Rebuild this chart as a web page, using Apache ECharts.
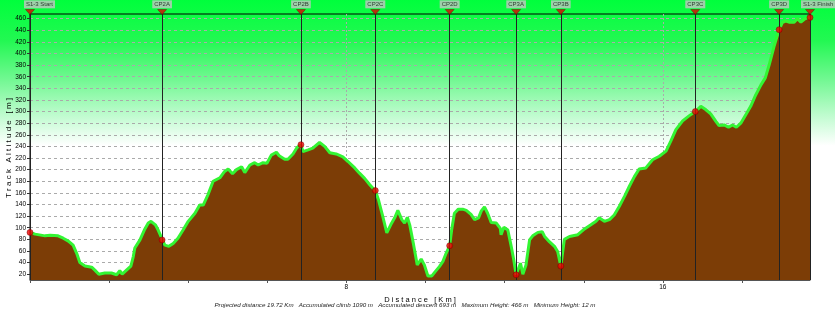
<!DOCTYPE html>
<html><head><meta charset="utf-8">
<script src="https://cdn.jsdelivr.net/npm/echarts@6/dist/echarts.min.js"></script>
<style>html,body{margin:0;padding:0;background:#fff}#c{width:835px;height:310px}</style>
</head><body><div id="c"></div>
<script>
const distKm = [0.00,0.13,0.38,0.51,0.71,0.84,0.97,1.09,1.18,1.26,1.39,1.56,1.64,1.74,1.89,2.06,2.19,2.27,2.33,2.44,2.55,2.61,2.65,2.78,2.89,2.99,3.06,3.17,3.24,3.33,3.34,3.41,3.51,3.62,3.74,3.87,4.00,4.17,4.29,4.38,4.50,4.63,4.80,4.92,5.01,5.12,5.22,5.35,5.43,5.56,5.68,5.77,5.89,5.99,6.10,6.23,6.30,6.44,6.52,6.65,6.75,6.85,6.90,7.03,7.15,7.32,7.45,7.58,7.74,7.91,8.04,8.21,8.33,8.46,8.59,8.67,8.73,8.81,8.92,9.02,9.12,9.22,9.30,9.40,9.47,9.54,9.60,9.70,9.79,9.89,9.97,10.06,10.16,10.24,10.35,10.44,10.52,10.61,10.66,10.73,10.83,10.94,11.03,11.15,11.24,11.34,11.41,11.49,11.57,11.66,11.79,11.89,11.91,11.98,12.08,12.16,12.23,12.29,12.40,12.46,12.54,12.63,12.71,12.84,12.95,13.01,13.13,13.26,13.34,13.42,13.51,13.64,13.85,14.02,14.18,14.31,14.39,14.52,14.65,14.77,14.90,15.03,15.15,15.28,15.40,15.57,15.74,15.91,16.08,16.20,16.33,16.50,16.67,16.82,16.96,17.09,17.21,17.34,17.42,17.55,17.66,17.76,17.86,17.97,18.10,18.22,18.35,18.48,18.59,18.69,18.81,18.94,19.02,19.11,19.19,19.32,19.40,19.49,19.60,19.72];
const altM = [92,89,86,87,86,82,77,70,56,40,34,32,27,20,22,22,19,26,20,27,34,50,65,79,96,108,111,105,96,82,79,70,68,73,82,96,111,125,139,139,157,180,186,197,201,193,200,205,195,208,212,208,212,211,225,230,224,218,218,227,238,243,231,234,237,247,240,229,227,222,214,203,194,185,174,168,164,148,119,91,105,117,130,114,108,118,105,70,36,46,36,17,17,24,33,42,56,69,96,125,132,132,130,123,114,117,129,136,125,109,108,99,88,101,96,70,45,19,39,20,36,79,86,92,93,85,76,68,59,34,80,85,88,98,105,111,117,111,114,122,137,154,171,188,201,203,217,223,232,249,269,284,293,300,309,303,296,283,276,277,273,277,273,280,295,309,329,346,358,381,412,441,453,456,454,454,460,454,460,462];
const cpNames = ['S1-3 Start','CP2A','CP2B','CP2C','CP2D','CP3A','CP3B','CP3C','CP3D','S1-3 Finish'];
const cpKm = [0,3.34,6.85,8.73,10.61,12.29,13.42,16.82,18.94,19.72];
const cpAlt = [92,79,243,164,69,19,34,300,441,462];
const yTicks = [20,40,60,80,100,120,140,160,180,200,220,240,260,280,300,320,340,360,380,400,420,440,460];
const xTicks = [0,2,4,6,8,10,12,14,16,18];
const xLabels = [8,16];
const yMin = 10, yMax = 468, xMax = 19.72;
const yTitle = 'T r a c k   A l t i t u d e   [ m ]';
const xTitle = 'D i s t a n c e   [ K m ]';
const caption = 'Projected distance 19.72 Km   Accumulated climb 1090 m   Accumulated descent 693 m   Maximum Height: 466 m   Minimum Height: 12 m';

const chart = echarts.init(document.getElementById('c'), null, {renderer:'canvas'});
const FONT = 'Liberation Sans';
const profile = distKm.map((d,i)=>[d, altM[i]]);
const lastIdx = cpNames.length - 1;
chart.setOption({
  animation:false,
  backgroundColor:{type:'linear',x:0,y:0,x2:0,y2:310,global:true,colorStops:[
    {offset:0,color:'#00ff3c'},{offset:0.13,color:'#22f852'},{offset:0.26,color:'#74f894'},
    {offset:0.39,color:'#cbfcd8'},{offset:0.47,color:'#ffffff'},{offset:1,color:'#ffffff'}]},
  grid:{left:30,right:25,top:14,bottom:30,containLabel:false,outerBoundsMode:'none',
    show:true,borderColor:'#000',borderWidth:1,backgroundColor:'transparent'},
  xAxis:[{
    type:'value',min:0,max:xMax,
    name:xTitle,nameLocation:'middle',nameGap:11,
    nameTextStyle:{fontFamily:FONT,fontSize:7.5,color:'#000'},
    axisLine:{show:true,lineStyle:{color:'#555',width:1}},
    axisTick:{show:true,length:3,customValues:xTicks,lineStyle:{color:'#555'}},
    axisLabel:{show:true,customValues:xLabels,margin:4,fontFamily:FONT,fontSize:6.5,color:'#000'},
    splitLine:{show:false}
  },{
    type:'value',min:0,max:xMax,position:'bottom',
    axisLine:{show:false},axisTick:{show:false,customValues:xLabels},axisLabel:{show:false},
    splitLine:{show:true,lineStyle:{color:'#aaaaaa',type:[2,2],width:1}}
  }],
  yAxis:{
    type:'value',min:yMin,max:yMax,
    axisLine:{show:true,lineStyle:{color:'#000',width:1}},
    axisTick:{show:true,length:3,customValues:yTicks,lineStyle:{color:'#333'}},
    axisLabel:{customValues:yTicks,margin:4,fontFamily:FONT,fontSize:6.5,color:'#000'},
    splitLine:{show:true,lineStyle:{color:'#aaaaaa',type:[3,3],width:1}}
  },
  series:[{
    type:'line',data:profile,showSymbol:false,symbol:'none',
    lineStyle:{color:'#33f533',width:3},
    areaStyle:{color:'#7c3d06',opacity:1},
    z:2,
    markLine:{silent:true,symbol:['none','none'],label:{show:false},
      lineStyle:{color:'#222',width:1,type:'solid'},
      data:cpKm.map(k=>({xAxis:k}))}
  },{
    type:'scatter',data:cpKm.map((k,i)=>[k,cpAlt[i]]),
    symbol:'circle',symbolSize:6,
    itemStyle:{color:'#ee0000',borderColor:'#700',borderWidth:0.6},z:5
  },{
    type:'scatter',
    data:cpKm.map((k,i)=>{
      const it = {value:[k,yMax],name:cpNames[i]};
      if (i===0) it.label = {align:'left',offset:[-6,0]};
      if (i===lastIdx) it.label = {align:'left',offset:[-9,0]};
      return it;
    }),
    symbol:'triangle',symbolRotate:180,symbolSize:[9,5],symbolOffset:[0,-2],clip:false,
    itemStyle:{color:'#e00000',borderColor:'#600',borderWidth:0.5},z:6,
    label:{show:true,position:'top',distance:1,formatter:p=>p.name,
      fontFamily:FONT,fontSize:6,lineHeight:8,color:'#111',backgroundColor:'#c4c4c4',padding:[0,2,0,2]}
  }],
  graphic:[
    {type:'text',x:405,y:305,style:{text:caption,font:'italic 6.2px "Liberation Sans"',fill:'#222',textAlign:'center',textVerticalAlign:'middle'}},
    {type:'text',x:9,y:148,rotation:Math.PI/2,style:{text:yTitle,font:'8px "Liberation Sans"',fill:'#000',textAlign:'center',textVerticalAlign:'middle'}}
  ]
});
</script></body></html>
